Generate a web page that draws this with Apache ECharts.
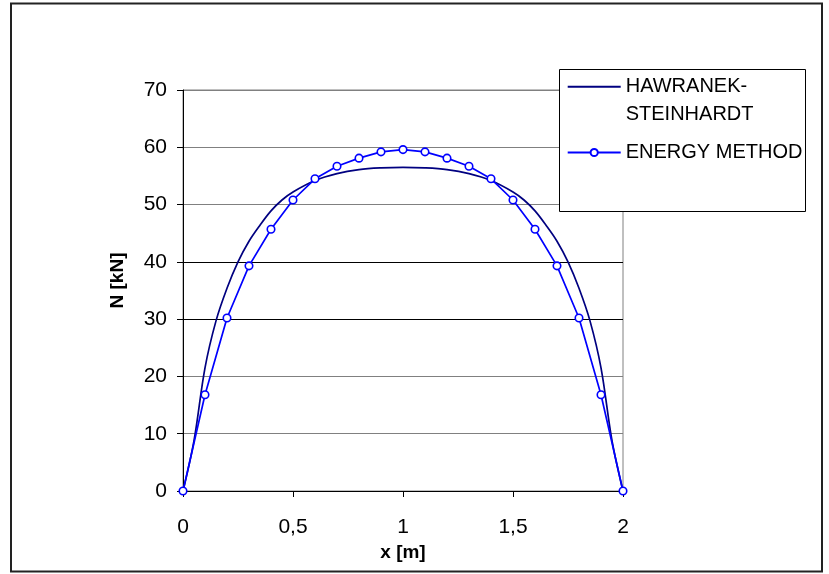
<!DOCTYPE html>
<html>
<head>
<meta charset="utf-8">
<script src="https://cdn.jsdelivr.net/npm/echarts@6/dist/echarts.min.js"></script>
<style>html,body{margin:0;padding:0;background:#fff}#c{width:829px;height:574px}</style>
</head>
<body>
<div id="c"></div>
<script>
// Energy method (markers)
const xEnergy = [0,0.1,0.2,0.3,0.4,0.5,0.6,0.7,0.8,0.9,1.0,1.1,1.2,1.3,1.4,1.5,1.6,1.7,1.8,1.9,2.0];
const nEnergy = [0,16.8,30.2,39.3,45.7,50.8,54.5,56.7,58.1,59.2,59.6,59.2,58.1,56.7,54.5,50.8,45.7,39.3,30.2,16.8,0];
// Hawranek-Steinhardt (smooth curve)
const xHawranek = [0,0.05,0.1,0.15,0.2,0.25,0.3,0.35,0.4,0.45,0.5,0.6,0.7,0.8,0.9,1.0,1.1,1.2,1.3,1.4,1.5,1.55,1.6,1.65,1.7,1.75,1.8,1.85,1.9,1.95,2.0];
const nHawranek = [0,8.8,21.5,29.7,35.4,40,43.6,46.4,48.9,50.8,52.2,54.2,55.4,56.1,56.4,56.5,56.4,56.1,55.4,54.2,52.2,50.8,48.9,46.4,43.6,40,35.4,29.7,21.5,8.8,0];
const seriesNames = ['HAWRANEK-STEINHARDT','ENERGY METHOD'];
const xTicks = [0,0.5,1,1.5,2];
const yTicks = [0,10,20,30,40,50,60,70];

const FONT = 'Liberation Sans, Arial, sans-serif';
const chart = echarts.init(document.getElementById('c'), null, {renderer:'canvas'});
const zip = (a,b) => a.map((v,i)=>[v,b[i]]);

chart.setOption({
  animation: false,
  backgroundColor: '#fff',
  grid: {left:183, top:90, width:440, height:401, show:true, borderColor:'#808080', borderWidth:1, backgroundColor:'transparent'},
  xAxis: {
    type:'value', min:xTicks[0], max:xTicks[xTicks.length-1], interval:0.5,
    name:'x [m]', nameLocation:'middle', nameGap:50,
    nameTextStyle:{fontFamily:FONT, fontSize:19, fontWeight:'bold', color:'#000'},
    axisLine:{show:true, onZero:false, lineStyle:{color:'#000', width:1}},
    axisTick:{show:true, inside:false, length:6, lineStyle:{color:'#000'}},
    axisLabel:{fontFamily:FONT, fontSize:21, color:'#000', margin:26, formatter:v=>String(v).replace('.',',')},
    splitLine:{show:false}
  },
  yAxis: {
    type:'value', min:yTicks[0], max:yTicks[yTicks.length-1], interval:10,
    name:'N [kN]', nameLocation:'middle', nameGap:56, nameRotate:90,
    nameTextStyle:{fontFamily:FONT, fontSize:19, fontWeight:'bold', color:'#000', padding:[0,0,0,20]},
    axisLine:{show:true, lineStyle:{color:'#000', width:1}},
    axisTick:{show:true, inside:false, length:6, lineStyle:{color:'#000'}},
    axisLabel:{fontFamily:FONT, fontSize:21, color:'#000', margin:16},
    splitLine:{show:true, lineStyle:{color:['#808080','#808080','#808080','#000000','#000000','#808080','#808080','#808080'], width:1}}
  },
  legend: {
    orient:'vertical', left:566.7, top:48.7, padding:0, itemGap:17.8,
    itemWidth:53, itemHeight:9, z:100,
    data: [
      {name: seriesNames[0], itemStyle:{opacity:0}},
      {name: seriesNames[1]}
    ],
    formatter: function(name){
      if (name === seriesNames[0]) return '{e| }\n{a|HAWRANEK-}\n{a|STEINHARDT}';
      return '{a|' + name + '}';
    },
    textStyle:{fontFamily:FONT, fontSize:20, color:'#000', rich:{
      a:{fontFamily:FONT, fontSize:20, lineHeight:28, color:'#000'},
      e:{fontFamily:FONT, fontSize:20, lineHeight:28}
    }}
  },
  graphic: [
    {type:'rect', z:50, shape:{x:11, y:3.5, width:811, height:568}, style:{fill:'none', stroke:'#222', lineWidth:2}},
    {type:'rect', z:50, shape:{x:559.5, y:69.5, width:246, height:142}, style:{fill:'#fff', stroke:'#000', lineWidth:1}}
  ],
  series: [
    {
      name: seriesNames[0], type:'line', data: zip(xHawranek, nHawranek),
      smooth:0.35, symbol:'none', z:3,
      lineStyle:{color:'#000080', width:1.7}, itemStyle:{color:'#000080'}
    },
    {
      name: seriesNames[1], type:'line', data: zip(xEnergy, nEnergy),
      smooth:false, symbol:'circle', symbolSize:7.5, showSymbol:true, z:4,
      lineStyle:{color:'#0000FF', width:1.7},
      itemStyle:{color:'#fff', borderColor:'#0000FF', borderWidth:1.6}
    }
  ]
});
</script>
</body>
</html>
